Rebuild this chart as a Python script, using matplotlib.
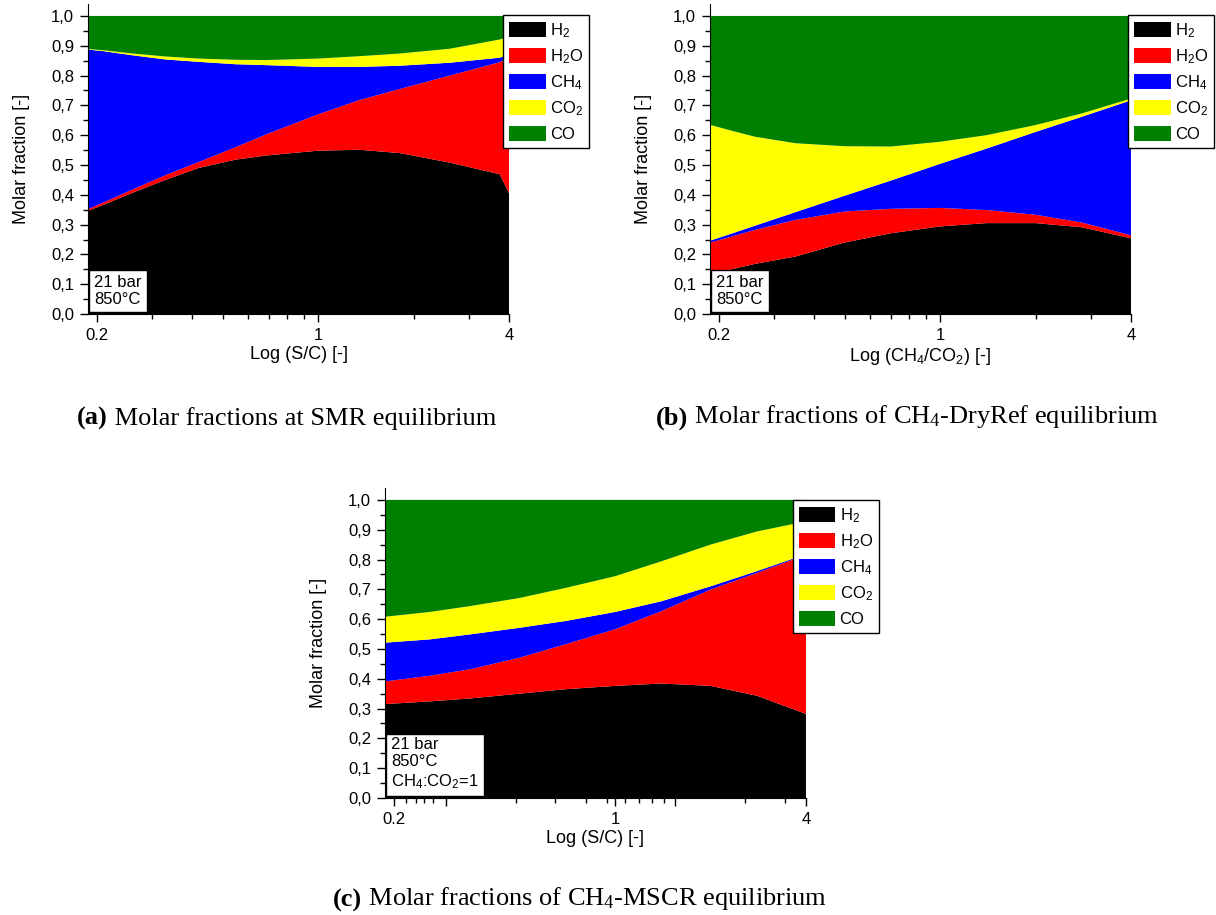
import matplotlib.pyplot as plt
from matplotlib.ticker import FuncFormatter, NullFormatter

plt.rcParams['font.family'] = 'Liberation Sans'
plt.rcParams['mathtext.default'] = 'regular'

species = ['H$_2$', 'H$_2$O', 'CH$_4$', 'CO$_2$', 'CO']
colors = ['#000000', '#ff0000', '#0000ff', '#ffff00', '#008000']

# (a) steam methane reforming, x = S/C
smr_x = [0.188, 0.21, 0.26, 0.33, 0.42, 0.55, 0.687, 1.0, 1.35, 1.81, 2.6, 3.74, 4.0]
smr_h2 = [0.346, 0.366, 0.407, 0.450, 0.490, 0.518, 0.532, 0.548, 0.551, 0.540, 0.508, 0.469, 0.405]
smr_h2o = [0.006, 0.008, 0.011, 0.016, 0.020, 0.042, 0.071, 0.122, 0.167, 0.215, 0.292, 0.376, 0.457]
smr_ch4 = [0.535, 0.508, 0.450, 0.388, 0.336, 0.278, 0.232, 0.159, 0.111, 0.078, 0.043, 0.015, 0.008]
smr_co2 = [0.002, 0.003, 0.006, 0.010, 0.011, 0.015, 0.017, 0.028, 0.036, 0.041, 0.047, 0.061, 0.060]
smr_co = [0.111, 0.115, 0.126, 0.136, 0.143, 0.147, 0.148, 0.143, 0.135, 0.126, 0.110, 0.079, 0.070]

# (b) dry reforming, x = CH4/CO2
dry_x = [0.189, 0.22, 0.26, 0.35, 0.5, 0.7, 1.0, 1.4, 2.0, 2.8, 4.0]
dry_h2 = [0.130, 0.150, 0.168, 0.193, 0.240, 0.271, 0.294, 0.305, 0.305, 0.291, 0.254]
dry_h2o = [0.110, 0.110, 0.114, 0.123, 0.104, 0.082, 0.062, 0.044, 0.028, 0.016, 0.010]
dry_ch4 = [0.007, 0.010, 0.014, 0.026, 0.053, 0.095, 0.148, 0.206, 0.278, 0.355, 0.453]
dry_co2 = [0.387, 0.345, 0.299, 0.231, 0.166, 0.114, 0.074, 0.045, 0.023, 0.011, 0.006]
dry_co = [0.366, 0.385, 0.405, 0.427, 0.437, 0.438, 0.422, 0.400, 0.366, 0.327, 0.277]

# (c) mixed steam/CO2 reforming, x = S/C
mscr_x = [0.188, 0.26, 0.35, 0.5, 0.7, 1.0, 1.4, 2.0, 2.8, 4.0]
mscr_h2 = [0.315, 0.324, 0.334, 0.350, 0.365, 0.376, 0.384, 0.376, 0.343, 0.282]
mscr_h2o = [0.076, 0.086, 0.098, 0.121, 0.151, 0.190, 0.243, 0.323, 0.412, 0.534]
mscr_ch4 = [0.130, 0.122, 0.117, 0.100, 0.078, 0.058, 0.033, 0.011, 0.006, 0.002]
mscr_co2 = [0.087, 0.092, 0.095, 0.100, 0.111, 0.120, 0.134, 0.140, 0.133, 0.110]
mscr_co = [0.392, 0.376, 0.356, 0.329, 0.295, 0.256, 0.206, 0.150, 0.106, 0.072]

std_minor = [0.3, 0.4, 0.5, 0.6, 0.7, 0.8, 0.9, 2, 3]
odd_minor = [0.219, 0.236, 0.250, 0.266, 0.486, 0.648, 0.807, 0.944, 1.077,
             1.188, 1.307, 1.422, 2.57, 3.43]

fig = plt.figure(figsize=(12.16, 9.15), dpi=100)


def draw_panel(ax, x, series, xlabel, note, legend_xy, major, major_labels, minor):
    ax.stackplot(x, *series, colors=colors, labels=species, linewidth=0)
    ax.set_xscale('log')
    ax.set_xlim(0.188, 4)
    ax.set_ylim(0, 1.04)
    ax.spines['top'].set_visible(False)
    ax.spines['right'].set_visible(False)
    ax.set_xticks(major, labels=major_labels)
    ax.set_xticks(minor, minor=True)
    ax.xaxis.set_minor_formatter(NullFormatter())
    ax.set_yticks([i / 10 for i in range(11)])
    ax.set_yticks([i / 20 for i in range(1, 20, 2)], minor=True)
    ax.yaxis.set_major_formatter(FuncFormatter(lambda v, p: f'{v:.1f}'.replace('.', ',')))
    ax.tick_params(which='major', direction='out', length=6, width=1, labelsize=12, pad=4)
    ax.tick_params(which='minor', direction='out', length=3.5, width=1)
    ax.set_ylabel('Molar fraction [-]', fontsize=13)
    ax.yaxis.set_label_coords(-0.137, 0.5)
    ax.set_xlabel(xlabel, fontsize=13, labelpad=2)
    ax.text(0.0143, 0.0226, note, transform=ax.transAxes, fontsize=12,
            va='bottom', ha='left', zorder=5,
            bbox=dict(boxstyle='square,pad=0.3', facecolor='white',
                      edgecolor='black', linewidth=1))
    leg = ax.legend(loc='upper left', bbox_to_anchor=legend_xy, borderaxespad=0,
                    fancybox=False, edgecolor='black', framealpha=1, fontsize=12,
                    handlelength=2.2, handleheight=1.0, handletextpad=0.25,
                    labelspacing=0.45, borderpad=0.35)
    leg.get_frame().set_linewidth(1)


def caption(ax, x, y, tag, rest):
    t = fig.text(x, y, tag, fontweight='bold', family='Liberation Serif',
                 fontsize=19, va='bottom', ha='left')
    ax.annotate(rest, xy=(1, 0), xycoords=t, va='bottom', ha='left',
                family='Liberation Serif', fontsize=19, annotation_clip=False)


ax_a = fig.add_axes([0.0724, 0.6568, 0.3462, 0.3388])
draw_panel(ax_a, smr_x, [smr_h2, smr_h2o, smr_ch4, smr_co2, smr_co],
           'Log (S/C) [-]', '21 bar\n850°C', (0.986, 0.9645),
           [0.2, 1, 4], ['0.2', '1', '4'], std_minor)

ax_b = fig.add_axes([0.5839, 0.6568, 0.3462, 0.3388])
draw_panel(ax_b, dry_x, [dry_h2, dry_h2o, dry_ch4, dry_co2, dry_co],
           'Log (CH$_4$/CO$_2$) [-]', '21 bar\n850°C', (0.993, 0.9645),
           [0.2, 1, 4], ['0.2', '1', '4'], std_minor)

ax_c = fig.add_axes([0.3166, 0.1279, 0.3462, 0.3388])
draw_panel(ax_c, mscr_x, [mscr_h2, mscr_h2o, mscr_ch4, mscr_co2, mscr_co],
           'Log (S/C) [-]', '21 bar\n850°C\nCH$_4$:CO$_2$=1', (0.969, 0.961),
           [0.2, 0.292, 1, 1.548, 4], ['0.2', '', '1', '', '4'], odd_minor)

caption(ax_a, 77 / 1216, 0.5304, '(a)', ' Molar fractions at SMR equilibrium')
caption(ax_b, 656 / 1216, 0.5304, '(b)', ' Molar fractions of CH$_4$-DryRef equilibrium')
caption(ax_c, 333 / 1216, 0.0036, '(c)', ' Molar fractions of CH$_4$-MSCR equilibrium')

plt.savefig('out.png', dpi=100)
